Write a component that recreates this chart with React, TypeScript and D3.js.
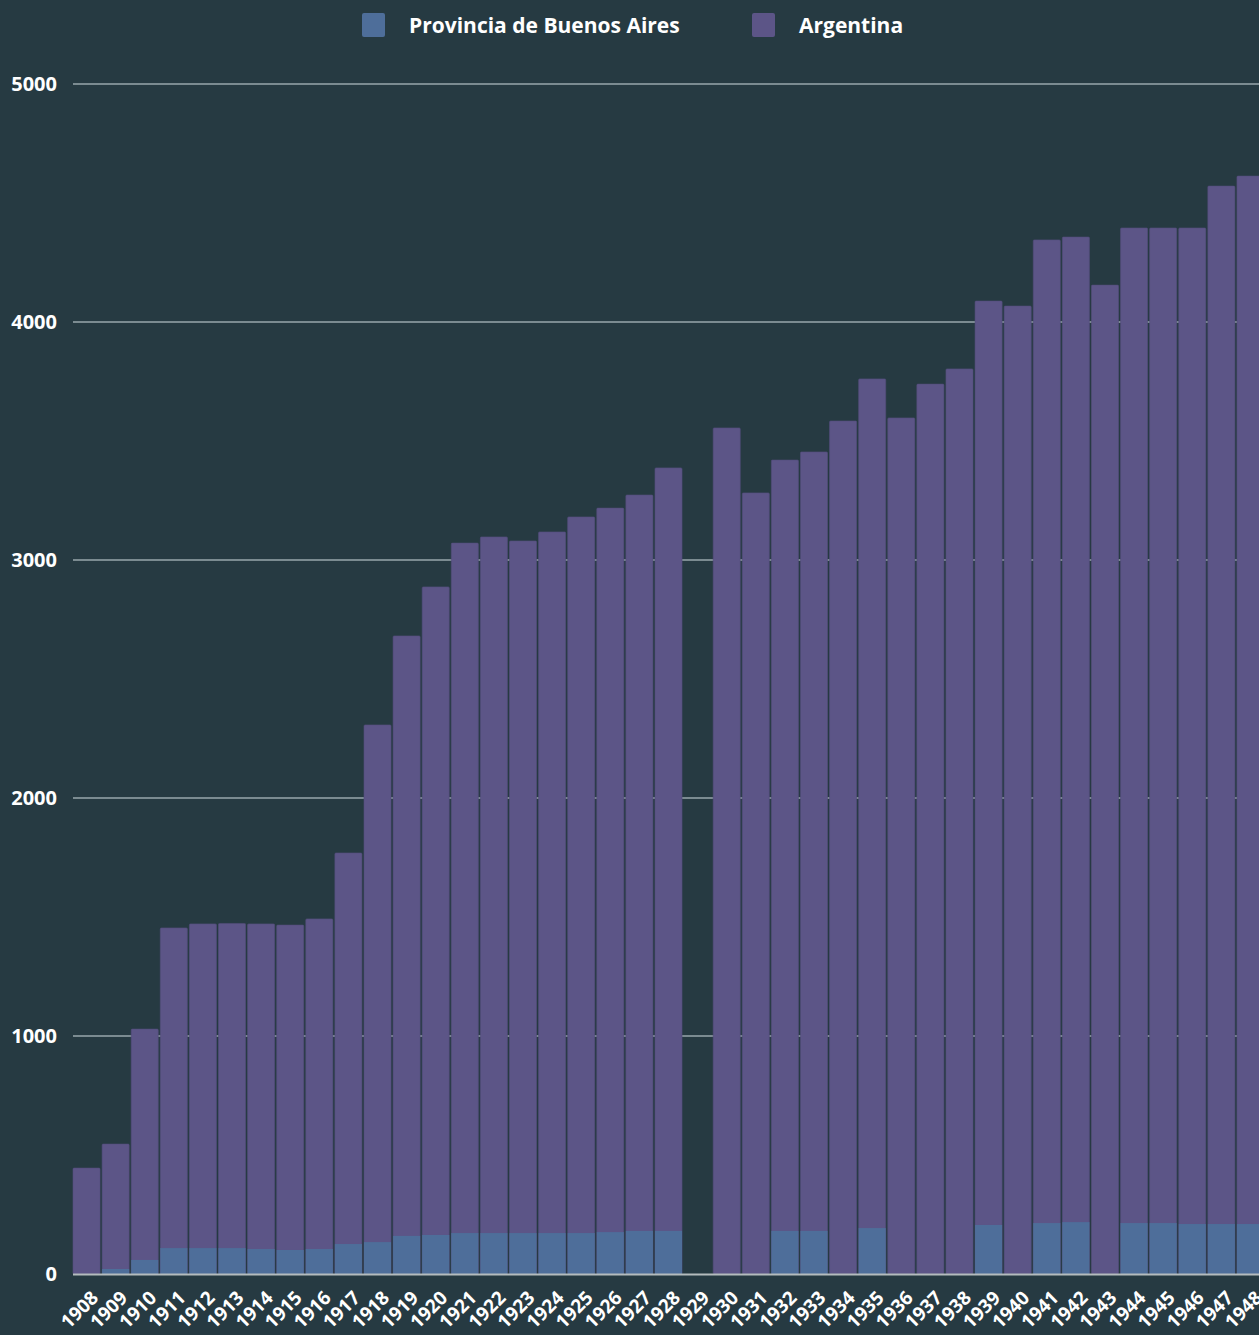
import * as d3 from 'd3';
import { FunctionComponent } from "react";

const years = [
    "1908", "1909", "1910", "1911", "1912", "1913", "1914", "1915", "1916", "1917",
    "1918", "1919", "1920", "1921", "1922", "1923", "1924", "1925", "1926", "1927",
    "1928", "1929", "1930", "1931", "1932", "1933", "1934", "1935", "1936", "1937",
    "1938", "1939", "1940", "1941", "1942", "1943", "1944", "1945", "1946", "1947", "1948"
];

const argentina = [
    445, 546, 1029, 1454, 1471, 1473, 1471, 1466, 1492, 1769,
    2307, 2681, 2887, 3071, 3097, 3080, 3118, 3181, 3218, 3273,
    3387, 0, 3555, 3282, 3420, 3454, 3584, 3761, 3597, 3739,
    3803, 4088, 4067, 4345, 4357, 4155, 4395, 4395, 4395, 4571, 4613
];

const buenosAires = [
    0, 21, 59, 109, 109, 109, 105, 101, 105, 126,
    134, 160, 164, 172, 172, 172, 172, 172, 176, 181,
    181, 0, 0, 0, 181, 181, 0, 193, 0, 0,
    0, 206, 0, 214, 218, 0, 214, 214, 210, 210, 210
];

const yTicks = [0, 1000, 2000, 3000, 4000, 5000];

const seriesNames = ["Provincia de Buenos Aires", "Argentina"];
const seriesColors = ["#4e6e9a", "#5c5587"];

const App: FunctionComponent = () => {
    const width = 1259;
    const height = 1335;
    const left = 73;
    const top = 84;
    const bottom = 1274;
    const bg = "#263a42";
    const font = "'Open Sans', 'Noto Sans', sans-serif";

    const x = d3.scaleBand<string>()
        .domain(years)
        .range([left, 1264])
        .paddingInner(0.07)
        .paddingOuter(0);

    const y = d3.scaleLinear([0, 5000], [bottom, top]);

    const legendX = [362, 752];

    return <div style={{ position: 'absolute', left: 0, top: 0 }}>
        <svg width={width} height={height} style={{ display: 'block', background: bg }}>
            <rect x={0} y={0} width={width} height={height} fill={bg} />
            {yTicks.filter(t => t > 0).map(t =>
                <line key={t} x1={left} x2={width} y1={y(t)} y2={y(t)} stroke="#7b8b91" strokeWidth={2} />
            )}
            {yTicks.map(t =>
                <text key={t} x={57} y={y(t)} dy="0.35em" textAnchor="end" fill="#ffffff"
                    fontFamily={font} fontWeight={700} fontSize={20}>{t}</text>
            )}
            {years.map((yr, i) => argentina[i] > 0 &&
                <rect key={"a" + yr} x={x(yr)} y={y(argentina[i])} width={x.bandwidth()}
                    height={y(0) - y(argentina[i])} fill={seriesColors[1]} rx={1}
                    stroke="#544e7c" strokeWidth={0.6} />
            )}
            {years.map((yr, i) => buenosAires[i] > 0 &&
                <rect key={"b" + yr} x={x(yr)} y={y(buenosAires[i])} width={x.bandwidth()}
                    height={y(0) - y(buenosAires[i])} fill={seriesColors[0]} />
            )}
            <line x1={left} x2={width} y1={bottom + 0.5} y2={bottom + 0.5} stroke="#b4bbbd" strokeWidth={2} />
            {years.map(yr => {
                const cx = x(yr)! + x.bandwidth() / 2 + 13;
                const cy = 1299;
                return <text key={"t" + yr} x={cx} y={cy} textAnchor="end" fill="#ffffff"
                    fontFamily={font} fontWeight={700} fontSize={19}
                    transform={`rotate(-45 ${cx} ${cy})`}>{yr}</text>;
            })}
            {seriesNames.map((name, i) =>
                <g key={name}>
                    <rect x={legendX[i]} y={13} width={23} height={24} rx={2} fill={seriesColors[i]} />
                    <text x={legendX[i] + 47} y={26} dy="0.35em" fill="#ffffff"
                        fontFamily={font} fontWeight={700} fontSize={21}>{name}</text>
                </g>
            )}
        </svg>
    </div>
}

export default App;
